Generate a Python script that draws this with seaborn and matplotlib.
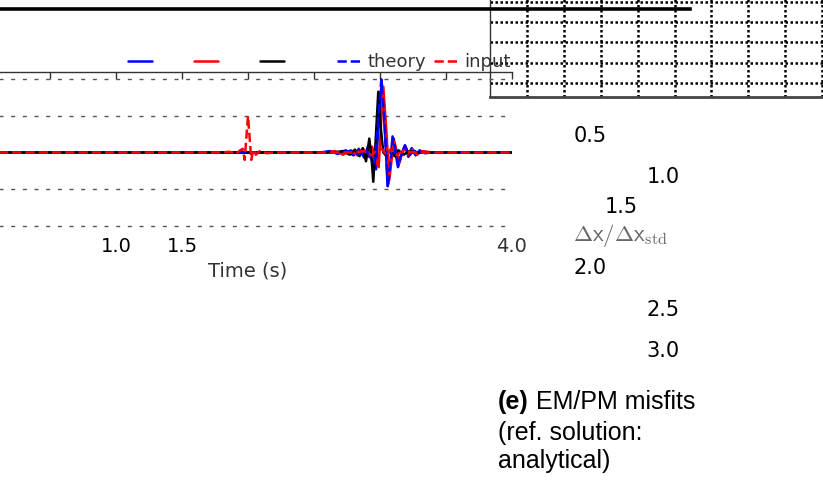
import numpy as np
import pandas as pd
import matplotlib
matplotlib.use("Agg")
import matplotlib.pyplot as plt
import seaborn as sns

# ── Traces (time in s, normalised amplitude) ─────────────────────────────────
t_em = [0.0, 2.55, 2.62, 2.68, 2.74, 2.80, 2.84, 2.88, 2.91, 2.94, 2.97, 2.99,
        3.013, 3.035, 3.058, 3.078, 3.095, 3.115, 3.136, 3.16, 3.189, 3.215,
        3.24, 3.27, 3.30, 3.34, 3.40, 4.0]
a_em = [0.0, 0.0, 0.02, -0.02, 0.03, -0.04, 0.05, -0.07, 0.09, -0.12, -0.23, 0.45,
        0.97, 0.35, -0.46, -0.15, 0.22, 0.02, -0.20, -0.03, 0.10, -0.06,
        0.06, -0.04, 0.03, -0.01, 0.0, 0.0]

t_pm = [0.0, 2.60, 2.66, 2.72, 2.78, 2.83, 2.87, 2.91, 2.94, 2.965, 2.99, 3.005,
        3.025, 3.048, 3.07, 3.088, 3.105, 3.125, 3.145, 3.17, 3.195, 3.22,
        3.25, 3.28, 3.32, 3.40, 4.0]
a_pm = [0.0, 0.0, 0.02, -0.03, 0.03, -0.04, 0.05, -0.06, 0.08, -0.10, -0.20, 0.30,
        0.90, 0.30, -0.38, -0.10, 0.18, 0.03, -0.15, 0.0, 0.08, -0.05,
        0.04, -0.03, 0.02, 0.0, 0.0]

t_ref = [0.0, 2.65, 2.72, 2.77, 2.81, 2.845, 2.87, 2.894, 2.919, 2.935, 2.949,
         2.965, 2.987, 3.005, 3.025, 3.05, 3.08, 3.11, 3.14, 3.18, 3.22, 3.28, 4.0]
a_ref = [0.0, 0.0, 0.02, -0.03, 0.04, -0.05, 0.06, -0.12, 0.19, -0.05, -0.40,
         0.10, 0.83, 0.35, 0.0, -0.05, 0.04, -0.05, 0.03, -0.03, 0.02, 0.0, 0.0]

t_theory = [0.0, 2.70, 2.78, 2.84, 2.89, 2.93, 2.96, 2.985, 3.01, 3.035, 3.06,
            3.08, 3.10, 3.12, 3.14, 3.165, 3.19, 3.22, 3.26, 3.32, 4.0]
a_theory = [0.0, 0.0, 0.02, -0.03, 0.05, -0.08, -0.15, 0.40, 1.0, 0.40, -0.48,
            -0.12, 0.20, 0.0, -0.18, 0.0, 0.09, -0.04, 0.02, 0.0, 0.0]

t_input = [0.0, 1.80, 1.86, 1.91, 1.94, 1.96, 1.975, 2.0, 2.025, 2.04, 2.06, 2.09,
           2.14, 2.20, 2.40, 2.80, 2.88, 2.94, 2.98, 3.02, 3.05, 3.08, 3.12, 3.18,
           3.26, 4.0]
a_input = [0.0, 0.0, 0.01, -0.02, 0.03, 0.05, -0.10, 0.50, -0.10, 0.04, -0.03, 0.02,
           -0.01, 0.0, 0.0, 0.0, 0.02, -0.04, 0.05, 0.04, -0.05, 0.04, -0.03, 0.02,
           0.0, 0.0]

trace_labels = ["", "", "", "theory", "input"]
xtick_vals = [0.5, 1.0, 1.5, 2.0, 2.5, 3.0, 3.5, 4.0]
xtick_text = ["", "1.0", "1.5", "", "", "", "", "4.0"]
grid_levels = [-1.0, -0.5, 0.0, 0.5, 1.0]

# stray colour-scale labels on the right
scale_labels = ["0.5", "1.0", "1.5", "2.0", "2.5", "3.0"]
scale_xy = [(590, 135.5), (663.5, 177), (621, 207), (590, 268), (663, 310), (663, 351)]

W, H = 823, 480
fx = lambda x: x / W
fy = lambda y: 1 - y / H

sns.set_style("white")
plt.rcParams["font.family"] = ["DejaVu Sans"]
plt.rcParams["text.color"] = "black"

fig = plt.figure(figsize=(W / 100, H / 100), dpi=100)

# ── Right box with dotted grid ───────────────────────────────────────────────
ax_box = fig.add_axes([fx(490), fy(97), 369 / W, 120 / H])
ax_box.set_xlim(0, 10)
ax_box.set_ylim(0.31, 0.31 + 120 / 20.3)
ax_box.set_xticks(range(1, 10))
ax_box.set_yticks(range(1, 6))
ax_box.grid(True, color="black", linestyle=(0, (1, 1)), linewidth=1.8)
ax_box.tick_params(length=0, labelbottom=False, labelleft=False)
for side in ["top", "right"]:
    ax_box.spines[side].set_visible(False)
ax_box.spines["left"].set_color("#333333")
ax_box.spines["left"].set_linewidth(1.0)
ax_box.spines["bottom"].set_color("#444444")
ax_box.spines["bottom"].set_linewidth(2.0)

# ── Thick rule across the top ────────────────────────────────────────────────
ax_rule = fig.add_axes([0, fy(9) - 0.05, 690 / W, 0.05])
ax_rule.set_facecolor("none")
ax_rule.set_xticks([]); ax_rule.set_yticks([])
for side in ["left", "right", "bottom"]:
    ax_rule.spines[side].set_visible(False)
ax_rule.spines["top"].set_linewidth(2.6)
ax_rule.spines["top"].set_color("black")

# ── Main trace axes ──────────────────────────────────────────────────────────
ax = fig.add_axes([fx(-16), fy(233), 528 / W, 161 / H])
ax.set_facecolor("none")

traces = [
    (t_em, a_em, "blue", "-"),
    (t_pm, a_pm, "red", "-"),
    (t_ref, a_ref, "black", "-"),
    (t_theory, a_theory, "blue", "--"),
    (t_input, a_input, "red", "--"),
]
for t, a, c, ls in traces:
    df = pd.DataFrame({"t": t, "a": a})
    sns.lineplot(data=df, x="t", y="a", color=c, linestyle=ls, lw=1.8,
                 estimator=None, sort=False, legend=False, ax=ax)

ax.set_xlim(0, 4.0)
ax.set_ylim(-1.1, 1.1)
ax.set_xticks(xtick_vals)
ax.set_xticklabels(xtick_text)
ax.set_yticks(grid_levels)
ax.yaxis.grid(True, color="#555555", linestyle=(0, (2.9, 5.5)), linewidth=1.0)
ax.xaxis.grid(False)
ax.tick_params(axis="x", top=True, bottom=False, direction="in",
               length=5, width=1, color="#333333", labelsize=14, pad=3)
ax.tick_params(axis="y", length=0, labelleft=False)
for lab in ax.get_xticklabels():
    lab.set_color("black")
ax.get_xticklabels()[-1].set_color("#333333")
ax.set_xlabel("Time (s)", fontsize=14, color="#333333", labelpad=4)
ax.set_ylabel("")
for side in ["left", "right", "bottom"]:
    ax.spines[side].set_visible(False)
ax.spines["top"].set_color("#333333")
ax.spines["top"].set_linewidth(1.0)

# ── Legends (split in two groups) ────────────────────────────────────────────
lines = ax.get_lines()
leg1 = fig.legend(handles=lines[:3], labels=trace_labels[:3], loc="center left",
                  bbox_to_anchor=(fx(128), fy(62)), ncol=3, frameon=False,
                  handlelength=1.35, handletextpad=0.4, columnspacing=1.9,
                  borderpad=0, borderaxespad=0, fontsize=13)
leg2 = fig.legend(handles=lines[3:], labels=trace_labels[3:], loc="center left",
                  bbox_to_anchor=(fx(337), fy(62)), ncol=2, frameon=False,
                  handlelength=1.35, handletextpad=0.33, columnspacing=0.45,
                  borderpad=0, borderaxespad=0, fontsize=13, labelcolor="#333333")

# ── Scattered scale labels and axis title ────────────────────────────────────
for lab, (x, y) in zip(scale_labels, scale_xy):
    fig.text(fx(x), fy(y), lab, fontsize=15, ha="center", va="center", color="black")
fig.text(fx(573), fy(241), r"$\Delta\mathsf{x}/\Delta\mathsf{x}_{\mathrm{std}}$",
         fontsize=16.5, ha="left", va="baseline", color="#666666", math_fontfamily="cm")

# ── Caption ──────────────────────────────────────────────────────────────────
cap = "Liberation Sans"
t1 = fig.text(fx(498), fy(402), "(e)", fontsize=18, fontweight="bold",
              family=cap, ha="left", va="center", color="black")
ax.annotate(" EM/PM misfits", xy=(1, 0), xycoords=t1, fontsize=18, family=cap,
            ha="left", va="bottom", annotation_clip=False, color="black")
fig.text(fx(498), fy(433), "(ref. solution:", fontsize=18, family=cap,
         ha="left", va="center", color="black")
fig.text(fx(498), fy(461), "analytical)", fontsize=18, family=cap,
         ha="left", va="center", color="black")

fig.savefig("out.png", dpi=100)
